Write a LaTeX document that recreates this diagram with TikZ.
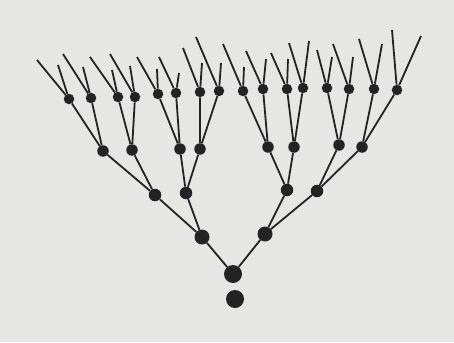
\documentclass[tikz,border=0pt]{standalone}
\definecolor{paper}{RGB}{230,230,228}
\definecolor{ink}{RGB}{35,35,38}
\begin{document}
\begin{tikzpicture}[x=1pt,y=-1pt,
		dot/.style={circle,fill=ink,inner sep=0pt,minimum size=#1},
		dot/.default=10.5pt,
		twig/.style={draw=ink,line width=1.8pt}]
			\fill[paper] (0,0) rectangle (454,342);
			\node[dot=18pt] (root) at (233,274) {};
			\node[dot=18pt] (seed) at (235,299) {};
			\node[dot=15pt] (a1) at (202,237) {};
			\node[dot=15pt] (a2) at (265,234) {};
			\node[dot=12.5pt] (b1) at (155,195) {};
			\node[dot=12.5pt] (b2) at (186,193) {};
			\node[dot=12.5pt] (b3) at (287,190) {};
			\node[dot=12.5pt] (b4) at (317,191) {};
			\node[dot=11.5pt] (c1) at (103,151) {};
			\node[dot=11.5pt] (c2) at (132,150) {};
			\node[dot=11.5pt] (c3) at (180,149) {};
			\node[dot=11.5pt] (c4) at (200,149) {};
			\node[dot=11.5pt] (c5) at (268,147) {};
			\node[dot=11.5pt] (c6) at (294,147) {};
			\node[dot=11.5pt] (c7) at (339,145) {};
			\node[dot=11.5pt] (c8) at (362,147) {};
			\node[dot] (d1) at (69,99) {};
			\node[dot] (d2) at (91,98) {};
			\node[dot] (d3) at (118,97) {};
			\node[dot] (d4) at (135,97) {};
			\node[dot] (d5) at (158,94) {};
			\node[dot] (d6) at (176,93) {};
			\node[dot] (d7) at (200,92) {};
			\node[dot] (d8) at (219,91) {};
			\node[dot] (d9) at (243,91) {};
			\node[dot] (d10) at (263,89) {};
			\node[dot] (d11) at (287,89) {};
			\node[dot] (d12) at (303,88) {};
			\node[dot] (d13) at (327,88) {};
			\node[dot] (d14) at (349,89) {};
			\node[dot] (d15) at (374,89) {};
			\node[dot] (d16) at (397,90) {};
			% free ends of the top twigs
			\coordinate (l1) at (37,60);   \coordinate (l2) at (58,65);
			\coordinate (l3) at (63,54);   \coordinate (l4) at (83,67);
			\coordinate (l5) at (90,57);   \coordinate (l6) at (112,70);
			\coordinate (l7) at (110,54);  \coordinate (l8) at (130,66);
			\coordinate (l9) at (137,57);  \coordinate (l10) at (157,69);
			\coordinate (l11) at (159,57); \coordinate (l12) at (179,73);
			\coordinate (l13) at (183,48); \coordinate (l14) at (202,63);
			\coordinate (l15) at (196,37); \coordinate (l16) at (221,63);
			\coordinate (l17) at (223,44); \coordinate (l18) at (244,67);
			\coordinate (l19) at (246,51); \coordinate (l20) at (266,59);
			\coordinate (l21) at (271,53); \coordinate (l22) at (288,59);
			\coordinate (l23) at (289,43); \coordinate (l24) at (309,41);
			\coordinate (l25) at (317,50); \coordinate (l26) at (332,57);
			\coordinate (l27) at (333,44); \coordinate (l28) at (353,57);
			\coordinate (l29) at (359,39); \coordinate (l30) at (382,44);
			\coordinate (l31) at (392,30); \coordinate (l32) at (421,36);
			% trunk and branches
			\draw[twig] (root) -- (a1) (root) -- (a2);
			\draw[twig] (a1) -- (b1) (a1) -- (b2);
			\draw[twig] (a2) -- (b3) (a2) -- (b4);
			\draw[twig] (b1) -- (c1) (b1) -- (c2);
			\draw[twig] (b2) -- (c3) (b2) -- (c4);
			\draw[twig] (b3) -- (c5) (b3) -- (c6);
			\draw[twig] (b4) -- (c7) (b4) -- (c8);
			\draw[twig] (c1) -- (d1) (c1) -- (d2);
			\draw[twig] (c2) -- (d3) (c2) -- (d4);
			\draw[twig] (c3) -- (d5) (c3) -- (d6);
			\draw[twig] (c4) -- (d7) (c4) -- (d8);
			\draw[twig] (c5) -- (d9) (c5) -- (d10);
			\draw[twig] (c6) -- (d11) (c6) -- (d12);
			\draw[twig] (c7) -- (d13) (c7) -- (d14);
			\draw[twig] (c8) -- (d15) (c8) -- (d16);
			% twigs
			\draw[twig] (d1) -- (l1) (d1) -- (l2);
			\draw[twig] (d2) -- (l3) (d2) -- (l4);
			\draw[twig] (d3) -- (l5) (d3) -- (l6);
			\draw[twig] (d4) -- (l7) (d4) -- (l8);
			\draw[twig] (d5) -- (l9) (d5) -- (l10);
			\draw[twig] (d6) -- (l11) (d6) -- (l12);
			\draw[twig] (d7) -- (l13) (d7) -- (l14);
			\draw[twig] (d8) -- (l15) (d8) -- (l16);
			\draw[twig] (d9) -- (l17) (d9) -- (l18);
			\draw[twig] (d10) -- (l19) (d10) -- (l20);
			\draw[twig] (d11) -- (l21) (d11) -- (l22);
			\draw[twig] (d12) -- (l23) (d12) -- (l24);
			\draw[twig] (d13) -- (l25) (d13) -- (l26);
			\draw[twig] (d14) -- (l27) (d14) -- (l28);
			\draw[twig] (d15) -- (l29) (d15) -- (l30);
			\draw[twig] (d16) -- (l31) (d16) -- (l32);
		\end{tikzpicture}
\end{document}
